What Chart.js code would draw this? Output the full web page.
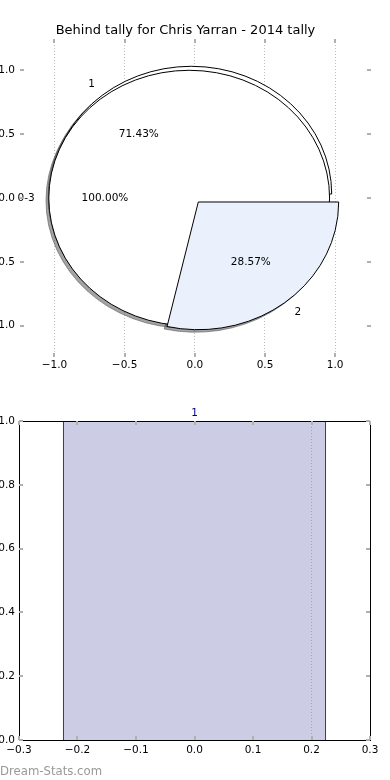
<!DOCTYPE html>
<html>
<head>
<meta charset="utf-8">
<script src="https://cdn.jsdelivr.net/npm/chart.js@4.4.1/dist/chart.umd.min.js"></script>
<style>
  html, body { margin: 0; padding: 0; background: #fff; }
  #wrap { position: relative; width: 390px; height: 780px; overflow: hidden; }
  canvas { position: absolute; left: 0; }
  #pie-canvas { top: 0; }
  #bar-canvas { top: 380px; }
  #brand { position: absolute; left: 0; top: 764px; font: 11.7px "DejaVu Sans", sans-serif; color: #999; }
</style>
</head>
<body>
<div id="wrap">
  <canvas id="pie-canvas" width="390" height="380"></canvas>
  <canvas id="bar-canvas" width="390" height="400"></canvas>
  <div id="brand">Dream-Stats.com</div>
</div>
<script>
const TITLE = "Behind tally for Chris Yarran - 2014 tally";

// top panel: two pies drawn on top of each other
const tallyLabels = ["1", "2"];
const tallyValues = [5, 2];
const tallyColors = ["#ffffff", "#eaf0fc"];
const rangeLabels = ["0-3"];
const rangeValues = [7];
const rangeColors = ["#ffffff"];
const pieXTicks = [-1, -0.5, 0, 0.5, 1];
const pieYTicks = [-1, -0.5, 0, 0.5, 1];

// bottom panel
const barCategories = ["1"];
const barValues = [1];
const barXTicks = [-0.3, -0.2, -0.1, 0, 0.1, 0.2, 0.3];
const barYTicks = [0, 0.2, 0.4, 0.6, 0.8, 1];

const FONT = "DejaVu Sans";
const TEXT_SIZE = 10.5;
const EXPLODE = 0.04;
const LABEL_DIST = 1.1;
const PCT_DIST = 0.6;
const SHADOW_OFF = -0.02;
const BAR_WIDTH = 0.45;
const NAVY = "#000080";

Chart.defaults.font.family = FONT;
Chart.defaults.font.size = TEXT_SIZE;
Chart.defaults.color = "#000";
Chart.defaults.animation = false;

const fmt = (v) => Number(v).toFixed(1).replace("-", "\u2212");
const setTicks = (list) => (s) => { s.ticks = list.map((v) => ({ value: v })); };

function buildWedges(labels, values, colors) {
  const total = values.reduce((a, b) => a + b, 0);
  let start = 0;
  return values.map((v, i) => {
    const span = (v / total) * 2 * Math.PI;
    const mid = start + span / 2;
    const w = {
      label: labels[i],
      pct: ((v / total) * 100).toFixed(2) + "%",
      color: colors[i],
      a0: start,
      a1: start + span,
      full: v === total,
      mid,
      cx: EXPLODE * Math.cos(mid),
      cy: EXPLODE * Math.sin(mid),
    };
    start += span;
    return w;
  });
}

const tally = buildWedges(tallyLabels, tallyValues, tallyColors);
const range = buildWedges(rangeLabels, rangeValues, rangeColors);
// stacking seen in the picture: slice "1", then the 0-3 disc, then slice "2"
const layers = [tally[0], range[0], tally[1]];

const pieWedges = {
  id: "pieWedges",
  afterDatasetsDraw(chart) {
    const { ctx, scales: { x, y } } = chart;
    const px = (v) => x.getPixelForValue(v);
    const py = (v) => y.getPixelForValue(v);
    const rx = px(1) - px(0);
    const ry = py(0) - py(1);
    const path = (w, dx, dy) => {
      const cx = px(w.cx + dx);
      const cy = py(w.cy + dy);
      ctx.beginPath();
      if (w.full) {
        ctx.ellipse(cx, cy, rx, ry, 0, 0, Math.PI * 2);
      } else {
        ctx.moveTo(cx, cy);
        ctx.ellipse(cx, cy, rx, ry, 0, -w.a0, -w.a1, true);
        ctx.closePath();
      }
    };
    ctx.save();
    ctx.lineWidth = 1;
    layers.forEach((w) => {
      path(w, SHADOW_OFF, SHADOW_OFF);
      ctx.fillStyle = "rgba(72,72,74,0.5)";
      ctx.strokeStyle = "rgba(72,72,74,0.5)";
      ctx.fill();
      ctx.stroke();
    });
    layers.forEach((w) => {
      path(w, 0, 0);
      ctx.fillStyle = w.color;
      ctx.strokeStyle = "#000";
      ctx.fill();
      ctx.stroke();
    });
    ctx.fillStyle = "#000";
    ctx.font = `${TEXT_SIZE}px "${FONT}"`;
    ctx.textBaseline = "middle";
    [...tally, ...range].forEach((w) => {
      const c = Math.cos(w.mid);
      const s = Math.sin(w.mid);
      const lx = w.cx + LABEL_DIST * c;
      const ly = w.cy + LABEL_DIST * s;
      ctx.textAlign = lx > 0 ? "left" : "right";
      ctx.fillText(w.label, px(lx), py(ly));
      ctx.textAlign = "center";
      ctx.fillText(w.pct, px(w.cx + PCT_DIST * c), py(w.cy + PCT_DIST * s));
    });
    ctx.restore();
  },
};

// small tick marks pointing into the plot on all four sides
const innerTicks = {
  id: "innerTicks",
  afterDraw(chart, args, opts) {
    if (!opts.axes) return;
    const { ctx, chartArea: a } = chart;
    ctx.save();
    ctx.fillStyle = "#b0b0b0";
    opts.axes.forEach((id) => {
      const s = chart.scales[id];
      s.ticks.forEach((t) => {
        const p = Math.round(s.getPixelForValue(t.value));
        if (s.isHorizontal()) {
          ctx.fillRect(p - 1, a.top, 2, 4);
          ctx.fillRect(p - 1, a.bottom - 4, 2, 4);
        } else {
          ctx.fillRect(a.left, p - 1, 4, 2);
          ctx.fillRect(a.right - 4, p - 1, 4, 2);
        }
      });
    });
    ctx.restore();
  },
};

const frame = {
  id: "frame",
  afterDatasetsDraw(chart, args, opts) {
    if (!opts.show) return;
    const { ctx, chartArea: a } = chart;
    ctx.save();
    ctx.strokeStyle = "#000";
    ctx.lineWidth = 1;
    ctx.strokeRect(a.left + 0.5, a.top + 0.5, a.width, a.height);
    ctx.restore();
  },
};

new Chart(document.getElementById("pie-canvas"), {
  type: "scatter",
  data: { datasets: [] },
  plugins: [pieWedges, innerTicks],
  options: {
    responsive: false,
    layout: { padding: { left: 0, right: 19, top: 0, bottom: 0 } },
    plugins: {
      legend: { display: false },
      tooltip: { enabled: false },
      title: {
        display: true,
        text: TITLE,
        color: "#000",
        font: { size: 13, weight: "normal" },
        padding: { top: 23, bottom: 0.4 },
      },
      innerTicks: { axes: ["x", "y"] },
    },
    scales: {
      x: {
        type: "linear",
        position: "bottom",
        min: -1.245,
        max: 1.255,
        afterBuildTicks: setTicks(pieXTicks),
        afterFit: (s) => { s.height = 23; },
        grid: { color: "#bdbdbd", lineWidth: 1, drawTicks: false },
        border: { display: false, dash: [1, 2] },
        ticks: { padding: 2, callback: (v) => fmt(v) },
      },
      y: {
        type: "linear",
        position: "left",
        min: -1.245,
        max: 1.245,
        afterBuildTicks: setTicks(pieYTicks),
        afterFit: (s) => { s.width = 20; },
        grid: { display: false, drawTicks: false },
        border: { display: false },
        ticks: { padding: 5, callback: (v) => fmt(v) },
      },
    },
  },
});

new Chart(document.getElementById("bar-canvas"), {
  type: "bar",
  data: {
    labels: barCategories,
    datasets: [
      {
        data: barValues,
        xAxisID: "x",
        yAxisID: "y",
        backgroundColor: "#ccccE5",
        borderColor: NAVY,
        borderWidth: { left: 1, right: 1, top: 1, bottom: 0 },
        borderSkipped: false,
        barPercentage: 1,
        categoryPercentage: BAR_WIDTH / (barXTicks[barXTicks.length - 1] - barXTicks[0]),
      },
    ],
  },
  plugins: [frame, innerTicks],
  options: {
    responsive: false,
    layout: { padding: { left: 0, right: 20, top: 0, bottom: 0 } },
    plugins: {
      legend: { display: false },
      tooltip: { enabled: false },
      frame: { show: true },
      innerTicks: { axes: ["xv", "y"] },
    },
    scales: {
      x: {
        type: "category",
        position: "top",
        offset: true,
        afterFit: (s) => { s.height = 41; },
        grid: { display: false, drawTicks: false },
        border: { display: false },
        ticks: { color: NAVY, padding: 1 },
      },
      xv: {
        type: "linear",
        position: "bottom",
        offset: false,
        min: barXTicks[0],
        max: barXTicks[barXTicks.length - 1],
        afterBuildTicks: setTicks(barXTicks),
        afterFit: (s) => { s.height = 40; },
        grid: {
          z: 1,
          offset: false,
          drawTicks: false,
          color: (c) => (c.tick && c.tick.value === 0.2 ? "#a8a8a8" : "rgba(0,0,0,0)"),
        },
        border: { display: false, dash: [1, 2] },
        ticks: { padding: 4, callback: (v) => fmt(v) },
      },
      y: {
        type: "linear",
        position: "left",
        min: barYTicks[0],
        max: barYTicks[barYTicks.length - 1],
        afterBuildTicks: setTicks(barYTicks),
        afterFit: (s) => { s.width = 19; },
        grid: { display: false, drawTicks: false },
        border: { display: false },
        ticks: { padding: 4, callback: (v) => fmt(v) },
      },
    },
  },
});
</script>
</body>
</html>
